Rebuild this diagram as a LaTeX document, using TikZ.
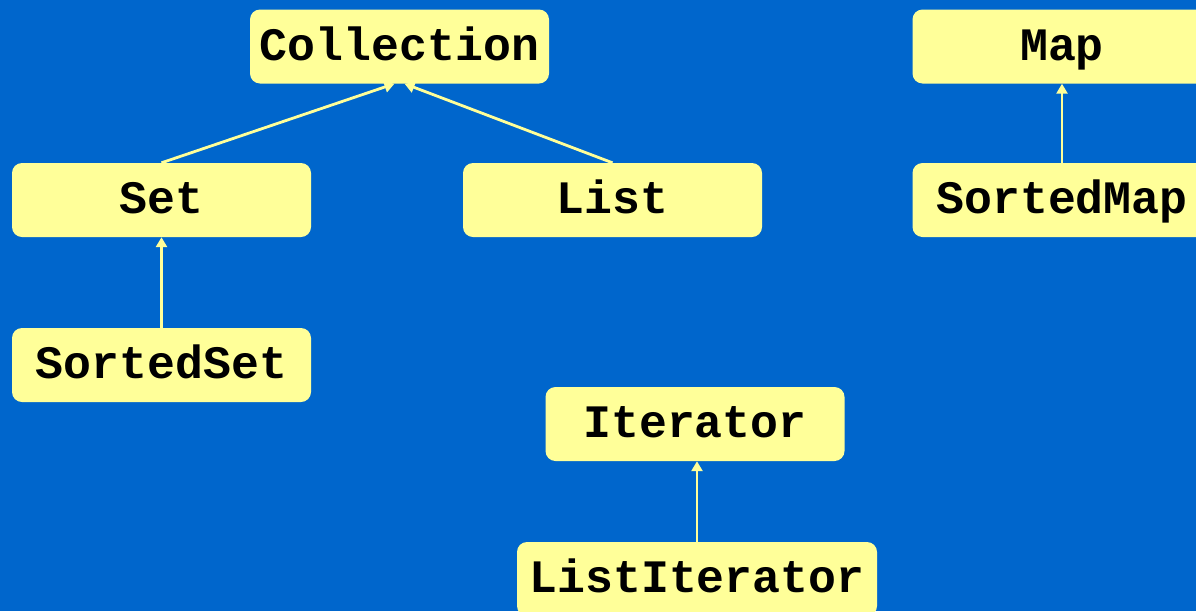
\documentclass[tikz,border=0pt]{standalone}
\usepackage{fontspec}
\setmonofont{Liberation Mono}
\usetikzlibrary{arrows.meta}
\definecolor{bgblue}{RGB}{0,102,204}
\definecolor{boxyellow}{RGB}{255,255,153}
\tikzset{
  iface/.style={fill=boxyellow, rounded corners=10pt, inner sep=0pt,
    minimum width=299pt, minimum height=74pt,
    font=\ttfamily\bfseries\fontsize{46.5}{50}\selectfont,
    text height=27pt, text depth=0pt},
  inherit/.style={draw=boxyellow, line width=2.8pt,
    -{Triangle[width=11pt,length=10pt]}}
}
\begin{document}
\begin{tikzpicture}[x=1pt,y=-1pt]
  \fill[bgblue] (0,0) rectangle (1196,611);
  \useasboundingbox (0,0) rectangle (1196,611);
  \begin{scope}
    \clip (0,0) rectangle (1196,611);
    \node[iface] (coll) at (399.5,46.5) {Collection};
    \node[iface] (set)  at (161.5,200)  {Set};
    \node[iface] (list) at (612.5,200)  {List};
    \node[iface] (sset) at (161.5,365)  {SortedSet};
    \node[iface] (map)  at (1062,46.5)  {Map};
    \node[iface] (smap) at (1062,200)   {SortedMap};
    \node[iface] (iter) at (695,424)    {Iterator};
    \node[iface, minimum width=360pt] (liter) at (697,579) {ListIterator};
  \end{scope}
  \draw[inherit] (set.north)  -- ([xshift=-5pt]coll.south);
  \draw[inherit] (list.north) -- ([xshift=5pt]coll.south);
  \draw[inherit] (sset.north) -- (set.south);
  \draw[inherit] (smap.north) -- (map.south);
  \draw[inherit] (liter.north) -- ([xshift=2pt]iter.south);
\end{tikzpicture}
\end{document}
